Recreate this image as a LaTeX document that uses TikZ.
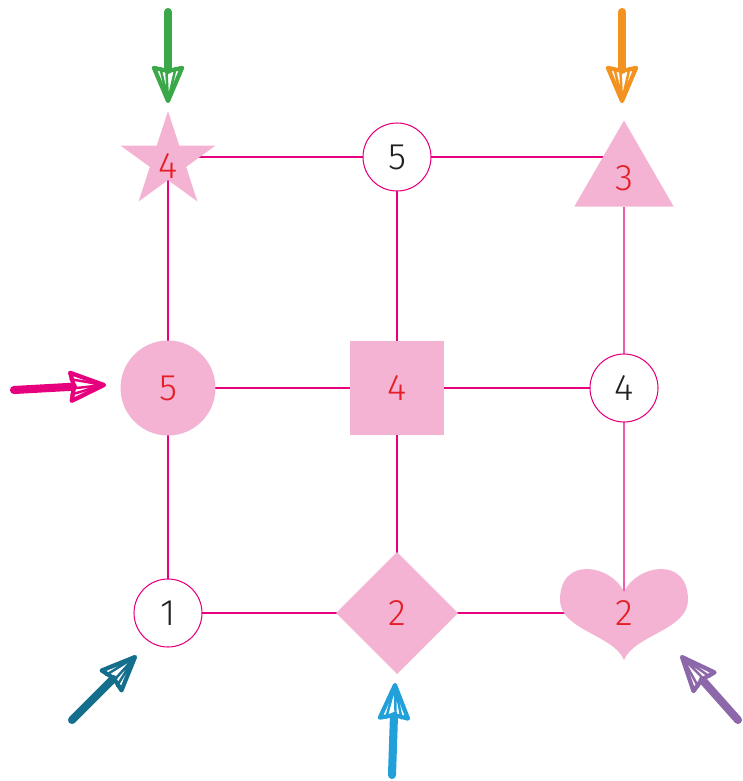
\documentclass[tikz,border=0pt]{standalone}
\usepackage{fontspec}
\setmainfont{Fira Sans}[UprightFont=* Light]
\usetikzlibrary{shapes.geometric, calc, backgrounds}

\definecolor{linkpink}{RGB}{230,0,126}
\definecolor{softpink}{RGB}{244,179,210}
\definecolor{numred}{RGB}{228,30,38}
\definecolor{inkgray}{RGB}{35,31,32}
\definecolor{arrgreen}{RGB}{58,168,72}
\definecolor{arrorange}{RGB}{243,146,30}
\definecolor{arrteal}{RGB}{20,110,140}
\definecolor{arrblue}{RGB}{34,160,218}
\definecolor{arrpurple}{RGB}{140,104,170}

\tikzset{
  spot/.style={inner sep=0pt, outer sep=0pt, font=\fontsize{21}{21}\selectfont, text=numred},
  blob/.style={spot, fill=softpink},
  ring/.style={spot, circle, draw=linkpink, line width=0.6pt, fill=white, minimum size=1.36cm, text=inkgray},
  link/.style={linkpink, line width=0.6pt},
}

% hand drawn arrow: colour, start, tip
\newcommand{\scribble}[3]{%
  \draw[#1, line width=4.6pt, line cap=round] (#2) -- ($(#3)!0.62cm!(#2)$);
  \draw[#1, line width=2.4pt, line join=round, line cap=round]
    (#3) -- ($(#3)!0.72cm!23:(#2)$) -- ($(#3)!0.6cm!(#2)$) -- ($(#3)!0.72cm!-23:(#2)$) -- cycle;
  \draw[#1, line width=1.4pt, line cap=round]
    (#3) -- ($(#3)!0.68cm!13:(#2)$) (#3) -- ($(#3)!0.68cm!-13:(#2)$) (#3) -- ($(#3)!0.64cm!3:(#2)$);
}

\begin{document}
\begin{tikzpicture}[x=0.02cm, y=-0.02cm]
\useasboundingbox (0,0) rectangle (743,781);

% top row
\node[blob, star, star points=5, star point ratio=2.618, minimum size=2cm] (star) at (168,161) {};
\node[spot] (starnum) at (168,166) {4};
\node[ring] (topfive) at (397,157) {5};
\node[blob, regular polygon, regular polygon sides=3, minimum size=2.3cm] (tri) at (624,178) {3};

% middle row
\node[blob, circle, minimum size=1.9cm] (midfive) at (168,388) {5};
\node[blob, rectangle, minimum size=1.88cm] (square) at (397,388) {4};
\node[ring] (midfour) at (624,388) {4};

% bottom row
\node[ring] (one) at (168,613) {1};
\node[blob, diamond, minimum size=2.44cm] (diam) at (397,613) {2};
\coordinate (hc) at (624,605);
\fill[softpink] ($(hc)+(0,-13)$) .. controls +(-12,-27) and +(0,-45) .. ++(-64,8)
  .. controls +(0,30) and +(-10,-25) .. ($(hc)+(0,55)$)
  .. controls +(10,-25) and +(0,30) .. ($(hc)+(64,-5)$)
  .. controls +(0,-45) and +(12,-27) .. ($(hc)+(0,-13)$) -- cycle;
\node[spot] (heart) at (624,613) {2};

\begin{scope}[on background layer]
\draw[link] (topfive -| star.center) -- (topfive) -- (topfive -| tri.center);
\draw[link] (star.center) -- (midfive) -- (one);
\draw[link] (topfive) -- (square) -- (diam.center);
\draw[link] (tri) -- (midfour) -- (hc);
\draw[link] (midfive) -- (square) -- (midfour);
\draw[link] (one) -- (diam.center) -- (heart.center);
\end{scope}

% arrows
\coordinate (gfrom) at (168,12);  \coordinate (gtip) at (168,101);
\coordinate (ofrom) at (622,12);  \coordinate (otip) at (622,101);
\coordinate (mfrom) at (14,390);  \coordinate (mtip) at (104,385);
\coordinate (tfrom) at (72,720);  \coordinate (ttip) at (135,657);
\coordinate (bfrom) at (392,775); \coordinate (btip) at (395,685);
\coordinate (pfrom) at (738,720); \coordinate (ptip) at (682,657);
\scribble{arrgreen}{gfrom}{gtip}
\scribble{arrorange}{ofrom}{otip}
\scribble{linkpink}{mfrom}{mtip}
\scribble{arrteal}{tfrom}{ttip}
\scribble{arrblue}{bfrom}{btip}
\scribble{arrpurple}{pfrom}{ptip}
\end{tikzpicture}
\end{document}
